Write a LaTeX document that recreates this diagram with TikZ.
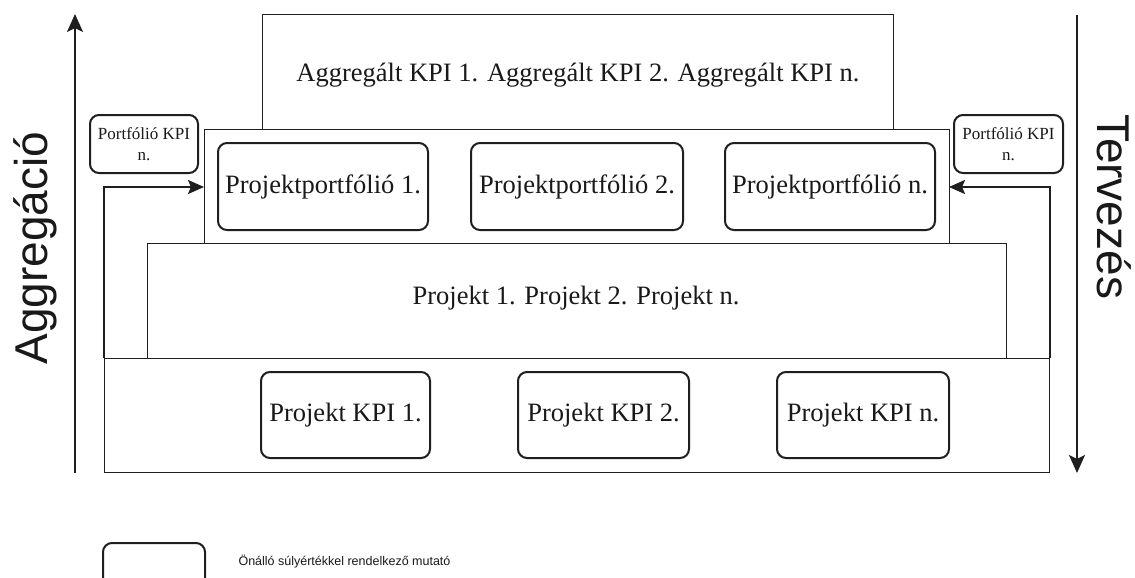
\documentclass[tikz,border=0pt]{standalone}
\usepackage{fontspec}
\setmainfont{Liberation Serif}
\newfontfamily\labelfont{Liberation Sans}
\usetikzlibrary{arrows.meta}
\begin{document}
\begin{tikzpicture}[x=1pt,y=-1pt,
  linecol/.style={draw=black!88},
  layerbox/.style={linecol, line width=1pt, inner sep=0pt, fill=white},
  kpibox/.style={linecol, line width=2pt, rounded corners=9pt, inner sep=0pt, fill=white},
  bigtext/.style={font=\fontsize{26.5}{30}\selectfont, text=black!90},
  smalltext/.style={font=\fontsize{17}{21}\selectfont, text=black!90, align=center},
  flow/.style={linecol, line width=2pt, -{Stealth[length=16pt, width=14pt, inset=3pt]}},
  bigflow/.style={linecol, line width=2pt, -{Stealth[length=18pt, width=16pt, inset=4pt]}},
  sidelabel/.style={font=\labelfont\fontsize{46}{50}\selectfont, text=black!90}
]
\useasboundingbox (0,0) rectangle (1135,578);
\fill[white] (0,0) rectangle (1135,578);

% stacked layers, bottom to top
\node[layerbox, minimum width=631pt, minimum height=114pt] (agg) at (577.5,72) {};
\node[bigtext] (aggtxt) at (578,75) {Aggregált KPI 1. Aggregált KPI 2. Aggregált KPI n.};
\node[layerbox, minimum width=745pt, minimum height=114pt] (port) at (576.5,186) {};
\node[layerbox, minimum width=859pt, minimum height=115pt] (proj) at (576.5,300.5) {};
\node[bigtext] (projtxt) at (576,298) {Projekt 1. Projekt 2. Projekt n.};
\node[layerbox, minimum width=945pt, minimum height=114pt] (base) at (576.5,415) {};

% portfolio row
\node[kpibox, bigtext, minimum width=210pt, minimum height=87pt] (pp1) at (323,186.5) {Projektportfólió 1.};
\node[kpibox, bigtext, minimum width=212pt, minimum height=87pt] (pp2) at (577,186.5) {Projektportfólió 2.};
\node[kpibox, bigtext, minimum width=210pt, minimum height=87pt] (ppn) at (830,186.5) {Projektportfólió n.};

% project KPI row
\node[kpibox, bigtext, minimum width=169pt, minimum height=86pt] (k1) at (345.5,415) {Projekt KPI 1.};
\node[kpibox, bigtext, minimum width=171pt, minimum height=86pt] (k2) at (603.5,415) {Projekt KPI 2.};
\node[kpibox, bigtext, minimum width=172pt, minimum height=86pt] (kn) at (863,415) {Projekt KPI n.};

% portfolio KPI boxes
\node[kpibox, smalltext, minimum width=108pt, minimum height=58pt] (pkl) at (144,144) {Portfólió KPI\\n.};
\node[kpibox, smalltext, minimum width=109pt, minimum height=58pt] (pkr) at (1008.5,144) {Portfólió KPI\\n.};

% feedback arrows into the portfolio layer
\coordinate (pl) at (204,187);
\coordinate (pr) at (949,187);
\draw[flow] (base.north west) |- (pl);
\draw[flow] (base.north east) |- (pr);

% direction arrows
\coordinate (aggS) at (75,473);
\coordinate (aggE) at (75,14);
\coordinate (terS) at (1077,15);
\coordinate (terE) at (1077,473);
\draw[bigflow] (aggS) -- (aggE);
\draw[bigflow] (terS) -- (terE);
\node[sidelabel, rotate=90] (agglbl) at (35,248) {Aggregáció};
\node[sidelabel, rotate=-90] (terlbl) at (1114,207) {Tervezés};

% legend
\begin{scope}
\clip (0,0) rectangle (1135,578);
\node[kpibox, minimum width=102pt, minimum height=58pt] (legbox) at (154,572) {};
\end{scope}
\node[font=\labelfont\fontsize{12.5}{15}\selectfont, text=black!90, anchor=west] (legtxt) at (235,562) {Önálló súlyértékkel rendelkező mutató};
\end{tikzpicture}
\end{document}
